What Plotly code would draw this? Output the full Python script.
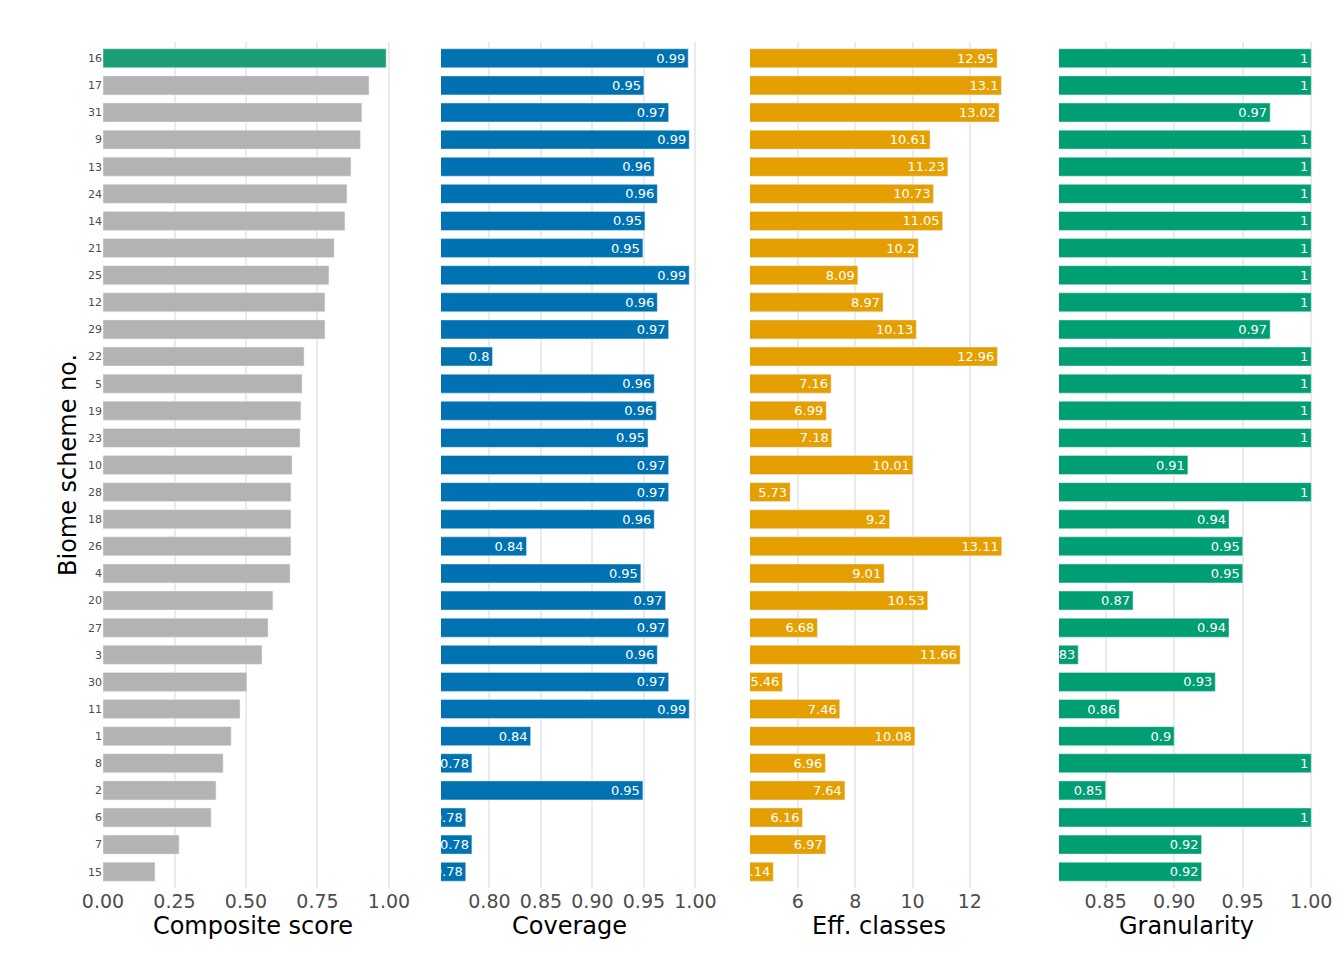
import plotly.graph_objects as go

schemes = ["16", "17", "31", "9", "13", "24", "14", "21", "25", "12", "29", "22", "5", "19", "23",
           "10", "28", "18", "26", "4", "20", "27", "3", "30", "11", "1", "8", "2", "6", "7", "15"]
composite = [0.99, 0.93, 0.905, 0.90, 0.867, 0.853, 0.846, 0.808, 0.79, 0.776, 0.776, 0.703, 0.696,
             0.692, 0.689, 0.661, 0.657, 0.657, 0.657, 0.654, 0.594, 0.577, 0.556, 0.503, 0.479,
             0.448, 0.42, 0.395, 0.378, 0.266, 0.182]
coverage = [0.993, 0.95, 0.974, 0.994, 0.960, 0.963, 0.951, 0.949, 0.994, 0.963, 0.974, 0.803, 0.960,
            0.962, 0.954, 0.974, 0.974, 0.960, 0.836, 0.947, 0.971, 0.974, 0.963, 0.974, 0.994,
            0.840, 0.783, 0.949, 0.777, 0.783, 0.777]
eff_classes = [12.95, 13.1, 13.02, 10.61, 11.23, 10.73, 11.05, 10.2, 8.09, 8.97, 10.13, 12.96, 7.16,
               6.99, 7.18, 10.01, 5.73, 9.2, 13.11, 9.01, 10.53, 6.68, 11.66, 5.46, 7.46, 10.08,
               6.96, 7.64, 6.16, 6.97, 5.14]
granularity = [1, 1, 0.97, 1, 1, 1, 1, 1, 1, 1, 0.97, 1, 1, 1, 1, 0.91, 1, 0.94, 0.95, 0.95, 0.87,
               0.94, 0.83, 0.93, 0.86, 0.9, 1, 0.85, 1, 0.92, 0.92]

fig = go.Figure()
ycat = schemes

comp_colors = ["#1b9e77"] + ["#b3b3b3"] * (len(schemes) - 1)
fig.add_trace(go.Bar(x=composite, y=ycat, orientation="h", marker_color=comp_colors,
                     width=0.7, xaxis="x", yaxis="y"))

def lab(v):
    return ("%.2f" % v).rstrip("0").rstrip(".")

panels = [(coverage, "#0072b2", "x2"), (eff_classes, "#e69f00", "x3"), (granularity, "#009e73", "x4")]
for vals, col, ax in panels:
    fig.add_trace(go.Bar(x=vals, y=ycat, orientation="h", marker_color=col, width=0.7,
                         text=[lab(v) for v in vals], textposition="inside", textangle=0,
                         insidetextanchor="end", constraintext="none",
                         textfont=dict(color="white", size=13, family="DejaVu Sans"),
                         cliponaxis=True, xaxis=ax, yaxis="y"))

font = dict(family="DejaVu Sans", color="#4d4d4d", size=19)
title_font = dict(family="DejaVu Sans", color="black", size=24)
common = dict(showgrid=True, gridcolor="#ebebeb", gridwidth=1.5, zeroline=False, ticks="",
              tickfont=font, title_font=title_font, anchor="y", title_standoff=6, automargin=False)

fig.update_layout(
    width=1344, height=960, plot_bgcolor="white", paper_bgcolor="white",
    margin=dict(l=0, r=0, t=34, b=80), showlegend=False, bargap=0.3,
    xaxis=dict(domain=[95/1344, 395/1344], range=[0, 1.049], tickvals=[0, 0.25, 0.5, 0.75, 1.0],
               ticktext=["0.00", "0.25", "0.50", "0.75", "1.00"], title_text="Composite score", **common),
    xaxis2=dict(domain=[433/1344, 690/1344], range=[0.753, 1.0025],
                tickvals=[0.8, 0.85, 0.9, 0.95, 1.0], ticktext=["0.80", "0.85", "0.90", "0.95", "1.00"],
                title_text="Coverage", **common),
    xaxis3=dict(domain=[742/1344, 1000/1344], range=[4.33, 13.33], tickvals=[6, 8, 10, 12],
                title_text="Eff. classes", **common),
    xaxis4=dict(domain=[1051/1344, 1306/1344], range=[0.816, 1.002],
                tickvals=[0.85, 0.9, 0.95, 1.0], ticktext=["0.85", "0.90", "0.95", "1.00"],
                title_text="Granularity", **common),
    yaxis=dict(categoryorder="array", categoryarray=schemes[::-1], showgrid=False, ticks="",
               tickfont=dict(family="DejaVu Sans", color="#4d4d4d", size=11), automargin=False,
               range=[-0.6, len(schemes) - 0.4]),
    annotations=[dict(text="Biome scheme no.", x=44/1344, y=0.5, xref="paper", yref="paper",
                      textangle=-90, showarrow=False, font=title_font)],
)
fig.write_html("out.html")
